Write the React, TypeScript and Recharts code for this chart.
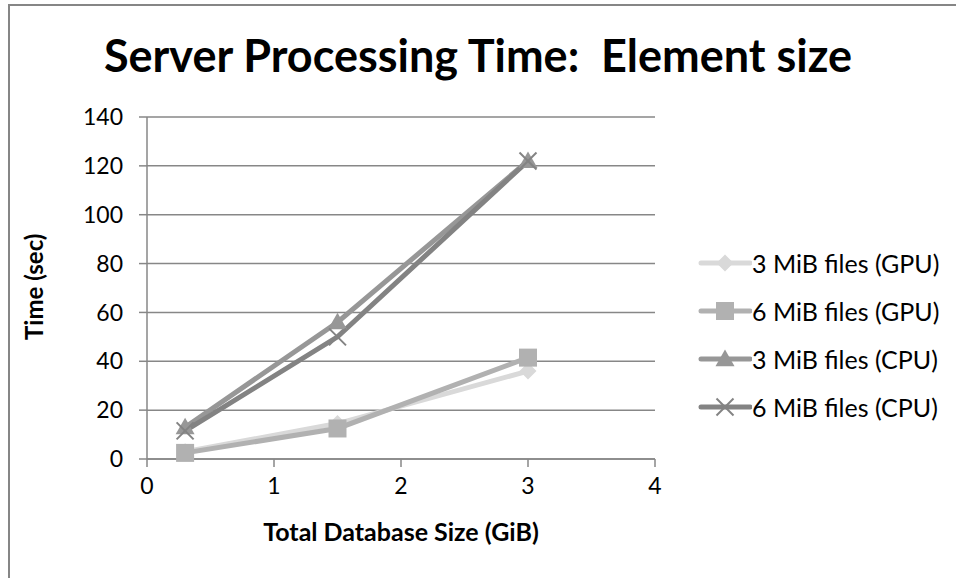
import React from "react";
import { LineChart, Line, XAxis, YAxis, CartesianGrid } from "recharts";

const xValues = [0.3, 1.5, 3];
const gpu3MiB = [3, 14.5, 36];
const gpu6MiB = [2.5, 12.5, 41.5];
const cpu3MiB = [13, 56, 122];
const cpu6MiB = [11.5, 50, 122];
const xTicks = [0, 1, 2, 3, 4];
const yTicks = [0, 20, 40, 60, 80, 100, 120, 140];
const seriesNames = ["3 MiB files (GPU)", "6 MiB files (GPU)", "3 MiB files (CPU)", "6 MiB files (CPU)"];

const data = xValues.map((x, i) => ({
  x,
  gpu3: gpu3MiB[i],
  gpu6: gpu6MiB[i],
  cpu3: cpu3MiB[i],
  cpu6: cpu6MiB[i],
}));

const FONT = "Lato, 'Open Sans', sans-serif";
const GRID = "#878787";

type Shape = "diamond" | "square" | "triangle" | "cross";

function marker(shape: Shape, cx: number, cy: number, color: string, key?: string) {
  if (shape === "diamond") {
    const r = 8.5;
    return <polygon key={key} points={`${cx},${cy - r} ${cx + r},${cy} ${cx},${cy + r} ${cx - r},${cy}`} fill={color} />;
  }
  if (shape === "square") {
    const r = 9;
    return <rect key={key} x={cx - r} y={cy - r} width={2 * r} height={2 * r} fill={color} />;
  }
  if (shape === "triangle") {
    const r = 9.5;
    return <polygon key={key} points={`${cx},${cy - r} ${cx + r},${cy + r * 0.75} ${cx - r},${cy + r * 0.75}`} fill={color} />;
  }
  const r = 8.5;
  return (
    <g key={key}>
      <line x1={cx - r} y1={cy - r} x2={cx + r} y2={cy + r} stroke={color} strokeWidth={2} />
      <line x1={cx - r} y1={cy + r} x2={cx + r} y2={cy - r} stroke={color} strokeWidth={2} />
    </g>
  );
}

const series: { key: string; color: string; shape: Shape }[] = [
  { key: "gpu3", color: "#d9d9d9", shape: "diamond" },
  { key: "gpu6", color: "#b1b1b1", shape: "square" },
  { key: "cpu3", color: "#979797", shape: "triangle" },
  { key: "cpu6", color: "#838383", shape: "cross" },
];

export default function App() {
  return (
    <div style={{ position: "absolute", left: 0, top: 0, width: 956, height: 578, background: "#fff", fontFamily: FONT, overflow: "hidden" }}>
      <div style={{ position: "absolute", left: 8, top: 4, width: 960, height: 600, borderTop: "2px solid #868686", borderLeft: "2px solid #868686" }} />
      <div style={{ position: "absolute", left: 0, top: 27, width: 956, textAlign: "center", fontWeight: 700, fontSize: 45, lineHeight: "56px", whiteSpace: "pre", color: "#000" }}>
        {"Server Processing Time:  Element size"}
      </div>
      <div style={{ position: "absolute", left: 0, top: 0 }}>
        <LineChart width={956} height={578} data={data} margin={{ top: 117, right: 301, bottom: 89, left: 87 }}>
          <CartesianGrid vertical={false} stroke={GRID} strokeWidth={1.5} />
          <XAxis
            dataKey="x"
            type="number"
            domain={[0, 4]}
            ticks={xTicks}
            height={30}
            stroke={GRID}
            strokeWidth={1.5}
            tickSize={8}
            tickMargin={11}
            tick={{ fill: "#000", fontSize: 23, fontFamily: FONT }}
            label={{ value: "Total Database Size (GiB)", position: "insideBottom", offset: -52, fill: "#000", fontSize: 25, fontWeight: 700, fontFamily: FONT }}
          />
          <YAxis
            type="number"
            domain={[0, 140]}
            ticks={yTicks}
            width={60}
            stroke={GRID}
            strokeWidth={1.5}
            tickSize={8}
            tickMargin={16}
            tick={{ fill: "#000", fontSize: 23, fontFamily: FONT }}
            label={{ value: "Time (sec)", angle: -90, position: "insideLeft", offset: -53, dy: 52, fill: "#000", fontSize: 24, fontWeight: 700, fontFamily: FONT }}
          />
          {series.map((s, i) => (
            <Line
              key={s.key}
              dataKey={s.key}
              name={seriesNames[i]}
              stroke={s.color}
              strokeWidth={5}
              isAnimationActive={false}
              dot={(p: any) => marker(s.shape, p.cx, p.cy, s.color, `${s.key}-${p.index}`)}
              activeDot={false}
            />
          ))}
        </LineChart>
      </div>
      <div style={{ position: "absolute", left: 698, top: 239, fontSize: 25, color: "#000" }}>
        {series.map((s, i) => (
          <div key={s.key} style={{ display: "flex", alignItems: "center", height: 48 }}>
            <svg width={54} height={24} style={{ display: "block" }}>
              <line x1={3} y1={12} x2={52} y2={12} stroke={s.color} strokeWidth={5} strokeLinecap="round" />
              {marker(s.shape, 27, 12, s.color)}
            </svg>
            <span style={{ whiteSpace: "nowrap" }}>{seriesNames[i]}</span>
          </div>
        ))}
      </div>
    </div>
  );
}
